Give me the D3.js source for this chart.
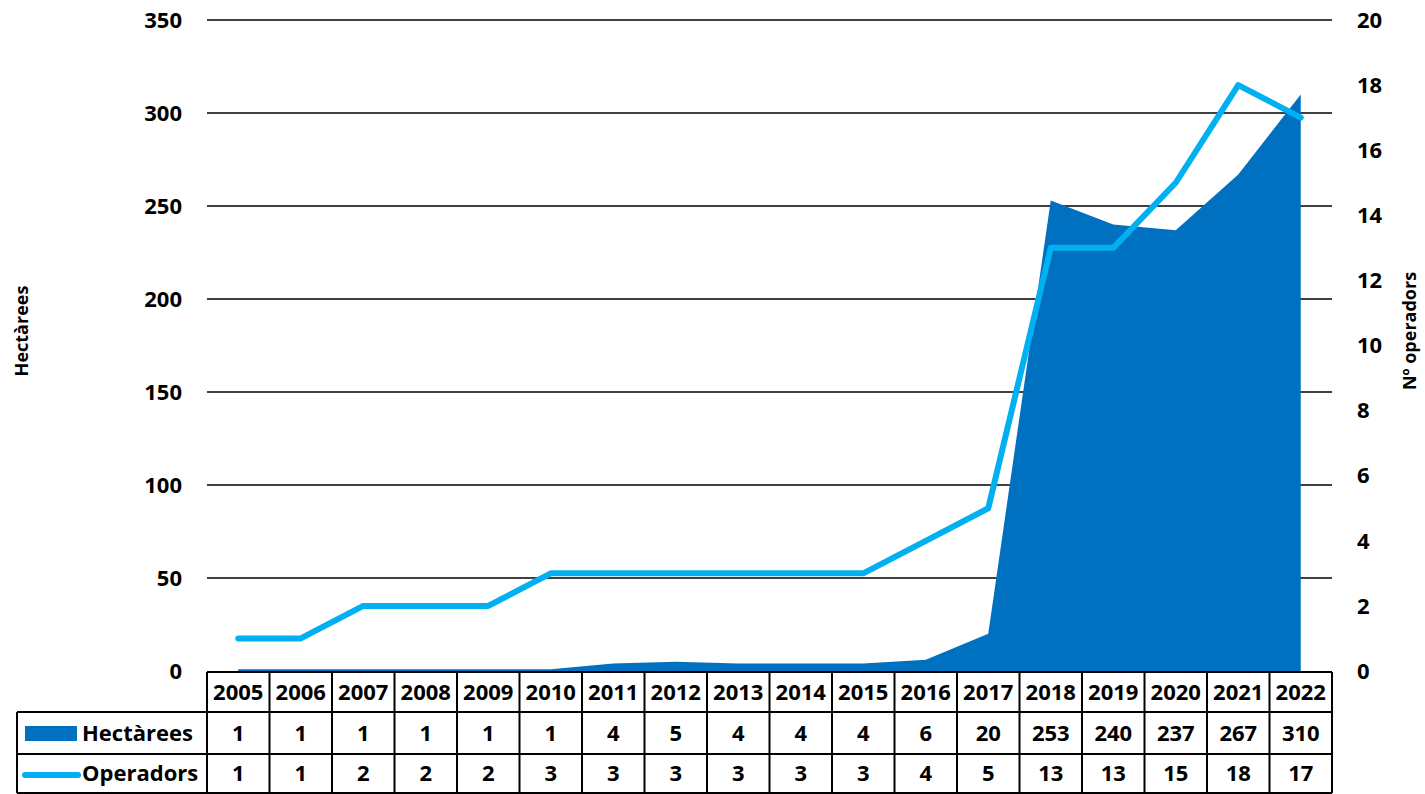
<!DOCTYPE html>
<head>
  <style>
    body { margin: 0; background: #fff; }
    svg text { font-family: "Open Sans", sans-serif; font-weight: bold; fill: #000; }
  </style>
  <script src="https://cdn.jsdelivr.net/npm/d3@7"></script>
</head>
<body>
<div class="home"></div>
<script>
    const years = [2005, 2006, 2007, 2008, 2009, 2010, 2011, 2012, 2013, 2014, 2015, 2016, 2017, 2018, 2019, 2020, 2021, 2022];
    const hectarees = [1, 1, 1, 1, 1, 1, 4, 5, 4, 4, 4, 6, 20, 253, 240, 237, 267, 310];
    const operadors = [1, 1, 2, 2, 2, 3, 3, 3, 3, 3, 3, 4, 5, 13, 13, 15, 18, 17];
    const leftTicks = [0, 50, 100, 150, 200, 250, 300, 350];
    const rightTicks = [0, 2, 4, 6, 8, 10, 12, 14, 16, 18, 20];

    const width = 1425, height = 794;
    const x0 = 207, x1 = 1332, yTop = 20, yBottom = 671;
    const areaColor = "#0070C0", lineColor = "#00B0F0";
    const fs = "22px";

    const svg = d3.select(".home").append("svg")
        .attr("width", width)
        .attr("height", height);

    const x = d3.scaleBand().domain(years).range([x0, x1]);
    const cx = d => x(d) + x.bandwidth() / 2;
    const yL = d3.scaleLinear().domain([0, 350]).range([yBottom, yTop]);
    const yR = d3.scaleLinear().domain([0, 20]).range([yBottom, yTop]);

    // gridlines
    svg.append("g").selectAll("line")
        .data(leftTicks.filter(d => d > 0))
        .enter().append("line")
        .attr("x1", x0).attr("x2", x1)
        .attr("y1", d => yL(d)).attr("y2", d => yL(d))
        .attr("stroke", "#000").attr("stroke-width", 1.5);

    // left axis labels
    svg.append("g").selectAll("text")
        .data(leftTicks)
        .enter().append("text")
        .attr("x", 182).attr("y", d => yL(d)).attr("dy", "0.35em")
        .attr("text-anchor", "end").style("font-size", fs)
        .text(d => d);

    // right axis labels
    svg.append("g").selectAll("text")
        .data(rightTicks)
        .enter().append("text")
        .attr("x", 1357).attr("y", d => yR(d)).attr("dy", "0.35em")
        .attr("text-anchor", "start").style("font-size", fs)
        .text(d => d);

    // axis titles
    svg.append("text")
        .attr("transform", "translate(28,331) rotate(-90)")
        .attr("text-anchor", "middle").style("font-size", "18px")
        .text("Hectàrees");
    svg.append("text")
        .attr("transform", "translate(1416,331) rotate(-90)")
        .attr("text-anchor", "middle").style("font-size", "18px")
        .text("Nº operadors");

    // area
    const area = d3.area()
        .x((d, i) => cx(years[i]))
        .y0(yL(0))
        .y1(d => yL(d));
    svg.append("path")
        .datum(hectarees)
        .attr("d", area)
        .attr("fill", areaColor);

    // line
    const line = d3.line()
        .x((d, i) => cx(years[i]))
        .y(d => yR(d));
    svg.append("path")
        .datum(operadors)
        .attr("d", line)
        .attr("fill", "none")
        .attr("stroke", lineColor)
        .attr("stroke-width", 6)
        .attr("stroke-linejoin", "round")
        .attr("stroke-linecap", "round");

    // data table
    const rowH = [672, 712, 754, 793];
    const tbl = svg.append("g");
    const sw = 2;
    tbl.append("line").attr("x1", x0).attr("x2", x1).attr("y1", rowH[0]).attr("y2", rowH[0])
        .attr("stroke", "#000").attr("stroke-width", sw);
    [rowH[1], rowH[2], rowH[3]].forEach(yy => {
        tbl.append("line").attr("x1", 17).attr("x2", x1).attr("y1", yy).attr("y2", yy)
            .attr("stroke", "#000").attr("stroke-width", sw);
    });
    const edges = years.map(d => x(d)).concat([x1]);
    edges.forEach(xx => {
        tbl.append("line").attr("x1", xx).attr("x2", xx).attr("y1", rowH[0]).attr("y2", rowH[3])
            .attr("stroke", "#000").attr("stroke-width", sw);
    });
    tbl.append("line").attr("x1", 17).attr("x2", 17).attr("y1", rowH[1]).attr("y2", rowH[3])
        .attr("stroke", "#000").attr("stroke-width", sw);

    const rows = [
        { y: (rowH[0] + rowH[1]) / 2, vals: years },
        { y: (rowH[1] + rowH[2]) / 2, vals: hectarees },
        { y: (rowH[2] + rowH[3]) / 2, vals: operadors }
    ];
    rows.forEach(r => {
        tbl.append("g").selectAll("text")
            .data(r.vals)
            .enter().append("text")
            .attr("x", (d, i) => cx(years[i]))
            .attr("y", r.y).attr("dy", "0.36em")
            .attr("text-anchor", "middle").style("font-size", fs)
            .text(d => d);
    });

    // legend keys in table
    tbl.append("rect").attr("x", 25).attr("y", 726).attr("width", 52).attr("height", 15).attr("fill", areaColor);
    tbl.append("text").attr("x", 82).attr("y", rows[1].y).attr("dy", "0.36em")
        .style("font-size", fs).text("Hectàrees");
    tbl.append("line").attr("x1", 25).attr("x2", 78).attr("y1", 775).attr("y2", 775)
        .attr("stroke", lineColor).attr("stroke-width", 6).attr("stroke-linecap", "round");
    tbl.append("text").attr("x", 82).attr("y", rows[2].y).attr("dy", "0.36em")
        .style("font-size", fs).text("Operadors");
</script>
</body>
